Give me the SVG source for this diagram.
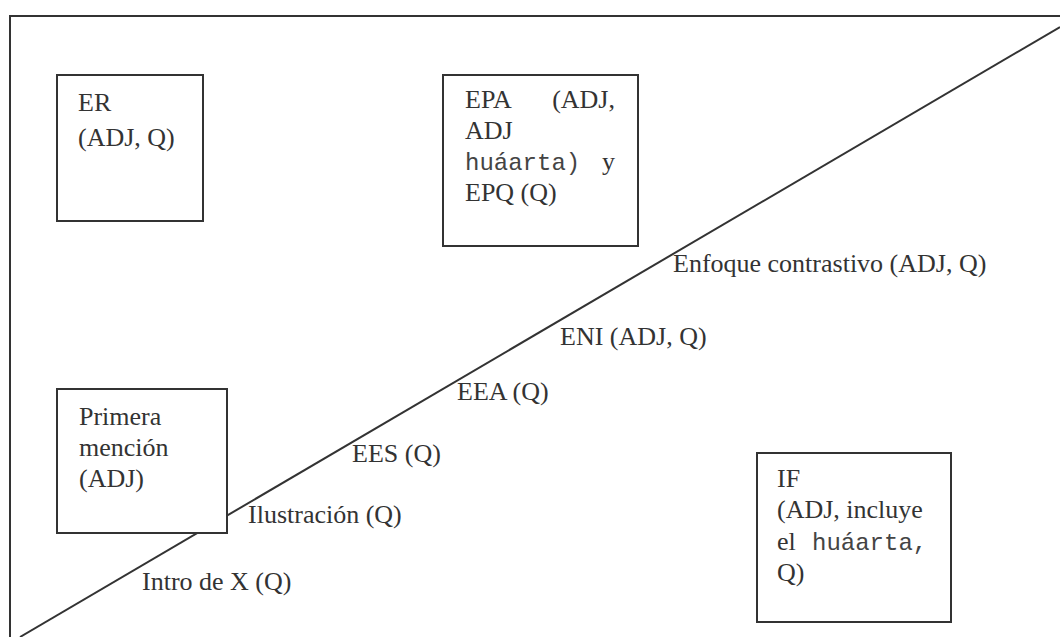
<svg xmlns="http://www.w3.org/2000/svg" width="1060" height="637" viewBox="0 0 1060 637">
<style>
.frame{fill:none;stroke:#333;stroke-width:2}
.box{fill:#fff;stroke:#333;stroke-width:2}
.m{font-family:'Liberation Mono','Courier New',monospace;font-size:24px;fill:#444}
</style>
<rect width="1060" height="637" fill="#fff"/>
<g id="frame">
<polyline class="frame" points="10,637 10,16 1060,16"/>
</g>
<g id="connectors">
<line class="frame" x1="1060" y1="27" x2="20" y2="637"/>
</g>
<g font-family="Liberation Serif, Times New Roman, serif" font-size="26" fill="#333">
<g id="node-er">
<rect class="box" x="57" y="75" width="146" height="146"/>
<text x="78" y="111">ER</text>
<text x="78" y="146">(ADJ, Q)</text>
</g>
<g id="node-epa">
<rect class="box" x="443" y="75" width="195" height="171"/>
<text x="465" y="108">EPA</text>
<text x="615" y="108" text-anchor="end">(ADJ,</text>
<text x="465" y="139">ADJ</text>
<text class="m" x="465" y="170">huáarta)</text>
<text x="615" y="170" text-anchor="end">y</text>
<text x="465" y="201">EPQ (Q)</text>
</g>
<g id="node-primera">
<rect class="box" x="57" y="389" width="170" height="144"/>
<text x="79" y="425">Primera</text>
<text x="79" y="456">mención</text>
<text x="79" y="487">(ADJ)</text>
</g>
<g id="node-if">
<rect class="box" x="757" y="453" width="194" height="169"/>
<text x="777" y="487">IF</text>
<text x="777" y="518">(ADJ, incluye</text>
<text x="777" y="550">el</text>
<text class="m" x="812" y="550">huáarta,</text>
<text x="777" y="581">Q)</text>
</g>
<g id="labels">
<text x="673" y="272">Enfoque contrastivo (ADJ, Q)</text>
<text x="560" y="345">ENI (ADJ, Q)</text>
<text x="457" y="400">EEA (Q)</text>
<text x="352" y="462">EES (Q)</text>
<text x="248" y="523">Ilustración (Q)</text>
<text x="142" y="590">Intro de X (Q)</text>
</g>
</g>
</svg>
